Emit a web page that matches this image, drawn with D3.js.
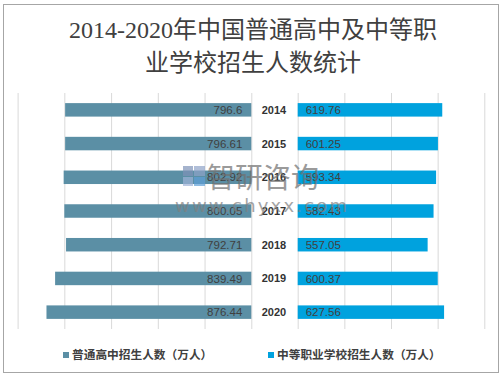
<!DOCTYPE html>
<html><head><meta charset="utf-8">
<script src="https://cdn.jsdelivr.net/npm/d3@7/dist/d3.min.js"></script>
<style>body{margin:0;background:#fff}svg{display:block}</style>
</head><body>
<svg id="c" width="504" height="377"></svg>
<script>
const years = ["2014","2015","2016","2017","2018","2019","2020"];
const highSchool = [796.6, 796.61, 802.92, 800.05, 792.71, 839.49, 876.44];
const vocational = [619.76, 601.25, 593.34, 582.43, 557.05, 600.37, 627.56];
const leftTicks = [0, 200, 400, 600, 800, 1000];
const rightTicks = [0, 200, 400, 600, 800];
const seriesNames = ["普通高中招生人数（万人）", "中等职业学校招生人数（万人）"];
const titleLines = ["2014-2020年中国普通高中及中等职", "业学校招生人数统计"];
const colors = ["#5B8FA5", "#00A2DE"];

const svg = d3.select("#c");
svg.append("rect").attr("x",3.5).attr("y",4.5).attr("width",495).attr("height",368)
  .attr("fill","#fff").attr("stroke","#a6a6a6").attr("stroke-width",1);

const plotTop = 93, plotBottom = 329;
const y = d3.scaleBand().domain(years).range([plotTop, plotBottom]).paddingInner(0.6).paddingOuter(0.3);
const xL = d3.scaleLinear().domain([0, 1000]).range([251.3, 17.6]);
const xR = d3.scaleLinear().domain([0, 800]).range([297.7, 484.3]);

// gridlines
const gL = svg.append("g").attr("transform",`translate(0,${plotBottom})`)
  .call(d3.axisBottom(xL).tickValues(leftTicks).tickSize(-(plotBottom-plotTop)).tickFormat(""));
const gR = svg.append("g").attr("transform",`translate(0,${plotBottom})`)
  .call(d3.axisBottom(xR).tickValues(rightTicks).tickSize(-(plotBottom-plotTop)).tickFormat(""));
[gL,gR].forEach(g=>{g.select(".domain").remove();
  g.selectAll(".tick line").attr("stroke","#d9d9d9").attr("stroke-width",1);});

// bars
svg.append("g").selectAll("rect").data(years).join("rect")
  .attr("x",(d,i)=>xL(highSchool[i])).attr("y",d=>y(d))
  .attr("width",(d,i)=>xL(0)-xL(highSchool[i])).attr("height",y.bandwidth())
  .attr("fill",colors[0]);
svg.append("g").selectAll("rect").data(years).join("rect")
  .attr("x",xR(0)).attr("y",d=>y(d))
  .attr("width",(d,i)=>xR(vocational[i])-xR(0)).attr("height",y.bandwidth())
  .attr("fill",colors[1]);

const font = "'Liberation Sans','Noto Sans CJK SC',sans-serif";
// value labels
svg.append("g").selectAll("text").data(years).join("text")
  .attr("x",xL(0)-9).attr("y",d=>y(d)+y.bandwidth()/2).attr("dy","0.36em")
  .attr("text-anchor","end").attr("font-family",font).attr("font-size",11.5)
  .attr("fill","#404040").text((d,i)=>highSchool[i]);
svg.append("g").selectAll("text").data(years).join("text")
  .attr("x",xR(0)+8).attr("y",d=>y(d)+y.bandwidth()/2).attr("dy","0.36em")
  .attr("text-anchor","start").attr("font-family",font).attr("font-size",11.5)
  .attr("fill","#404040").text((d,i)=>vocational[i]);
// year labels
svg.append("g").selectAll("text").data(years).join("text")
  .attr("x",274).attr("y",d=>y(d)+y.bandwidth()/2).attr("dy","0.36em")
  .attr("text-anchor","middle").attr("font-family",font).attr("font-size",11)
  .attr("font-weight","bold").attr("fill","#333").text(d=>d);

// watermark
const wm = svg.append("g").attr("opacity",0.7);
wm.append("rect").attr("x",183).attr("y",166).attr("width",10).attr("height",10).attr("fill","#7f93b8");
wm.append("rect").attr("x",194).attr("y",166).attr("width",11).attr("height",10).attr("fill","#8fa3c8");
wm.append("rect").attr("x",183).attr("y",177).attr("width",10).attr("height",9).attr("fill","#9fb3d8");
wm.append("rect").attr("x",194).attr("y",177).attr("width",11).attr("height",9).attr("fill","#5fa0d8");
wm.append("text").attr("x",207).attr("y",188).attr("font-family","'Noto Sans CJK SC'")
  .attr("font-size",28).attr("fill","#707070").text("智研咨询");
wm.append("text").attr("x",175).attr("y",212).attr("font-family","'DejaVu Sans',sans-serif")
  .attr("font-size",18).attr("letter-spacing",2.2).attr("fill","#808080").text("www.chyxx.com");

// title
const tFont = "'Liberation Serif','Noto Sans CJK SC',serif";
svg.append("g").selectAll("text").data(titleLines).join("text")
  .attr("x",253).attr("y",(d,i)=>38+i*33).attr("text-anchor","middle")
  .attr("font-family",tFont).attr("font-size",24).attr("fill","#404040").text(d=>d);

// legend
const legX = [63, 268];
const lg = svg.append("g").selectAll("g").data(seriesNames).join("g")
  .attr("transform",(d,i)=>`translate(${legX[i]},355)`);
lg.append("rect").attr("x",0).attr("y",-3).attr("width",6).attr("height",6).attr("fill",(d,i)=>colors[i]);
lg.append("text").attr("x",9).attr("y",0).attr("dy","0.36em").attr("font-family","'Noto Sans CJK SC'")
  .attr("font-size",11.7).attr("font-weight","bold").attr("fill","#404040").text(d=>d);
</script>
</body></html>
